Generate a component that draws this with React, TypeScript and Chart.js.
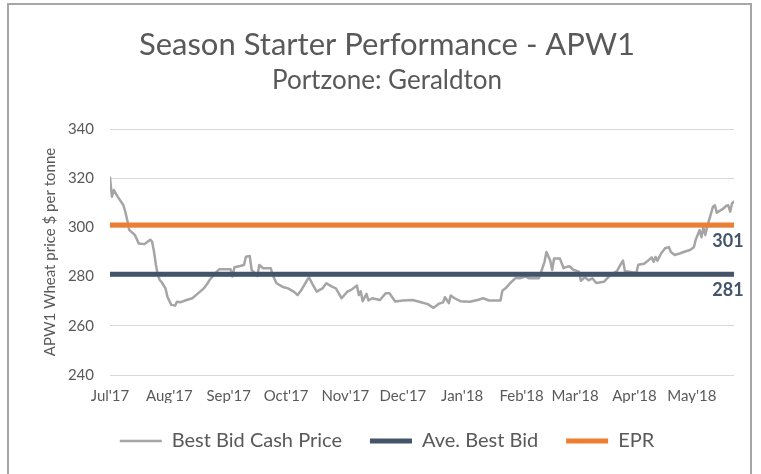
import React, { useEffect, useRef } from "react";
import { Chart, registerables } from "chart.js";

Chart.register(...registerables);

const TITLE = "Season Starter Performance - APW1";
const SUBTITLE = "Portzone: Geraldton";
const Y_TITLE = "APW1 Wheat price $ per tonne";

// x axis: days since 1 Jul 2017
const monthDays = [0, 31, 62, 92, 123, 153, 184, 215, 243, 274, 304];
const monthLabels = ["Jul'17", "Aug'17", "Sep'17", "Oct'17", "Nov'17", "Dec'17", "Jan'18", "Feb'18", "Mar'18", "Apr'18", "May'18"];
const X_MAX = 326;

const yMin = 240;
const yMax = 340;
const yStep = 20;

// Best Bid Cash Price
const priceDays = [
  0, 1, 2, 4, 7, 8, 9, 10, 13, 15, 18, 21, 22, 23, 24, 25, 26, 27, 29, 30,
  32, 34, 35, 37, 40, 43, 46, 49, 51, 52, 55, 57, 63, 64, 65, 68, 70, 71, 73, 74,
  77, 78, 80, 84, 85, 87, 90, 93, 96, 98, 100, 103, 104, 106, 108, 111, 113, 116, 118, 121,
  124, 126, 129, 130, 131, 132, 134, 135, 137, 141, 144, 146, 149, 153, 158, 162, 166, 169, 171, 172,
  174, 175, 177, 178, 180, 183, 188, 192, 195, 198, 204, 205, 207, 209, 212, 214, 217, 219, 224, 225,
  227, 228, 230, 231, 232, 235, 237, 238, 240, 242, 245, 246, 248, 250, 252, 254, 258, 261, 265, 267,
  268, 269, 275, 276, 279, 281, 283, 284, 285, 286, 288, 290, 292, 293, 295, 298, 300, 303, 305, 306,
  308, 309, 310, 311, 312, 314, 315, 316, 317, 320, 322, 323, 324, 325, 326,
];
const priceValues = [
  320.2, 312.5, 315.2, 312.5, 309, 306.4, 303, 299, 296.9, 293.5, 293.2, 295, 294.2, 290.1, 284.7, 280.6, 278.6, 277.7, 275.2, 271.8,
  268.5, 268.2, 269.8, 269.6, 270.5, 271.2, 273.2, 275.2, 277.3, 278.6, 281.3, 283, 283, 280, 283.8, 284.3, 284.7, 288.1, 288.4, 282.7,
  280.2, 284.7, 283.4, 283.4, 280.6, 277.3, 275.9, 275.2, 273.9, 272.5, 274.6, 278.6, 279.7, 276.6, 273.9, 275.2, 277.3, 275.9, 275.2, 271.2,
  273.9, 274.6, 276.4, 272.5, 274, 270, 273, 270.3, 271.2, 270.5, 273.2, 273.2, 269.9, 270.3, 270.5, 269.7, 268.8, 267.3, 268.5, 269,
  269.5, 271.6, 269.2, 272.3, 271.2, 270, 269.8, 270.5, 271.2, 270.3, 270.3, 274.3, 275.5, 277.3, 279.5, 279.3, 280, 279.3, 279.3, 281.3,
  286, 290, 286.5, 282.7, 287.4, 287.4, 283.4, 283.8, 284.2, 282.8, 282, 278.3, 279.8, 278.5, 279.3, 277.4, 277.9, 280.3, 282.4, 285.3,
  286.5, 282.3, 281.5, 284.8, 285.2, 286.4, 287.8, 286, 288, 286.5, 289.5, 291.5, 292, 290, 288.8, 289.5, 290.1, 290.8, 291.9, 295,
  298.9, 296, 300.3, 296.9, 300.3, 305.7, 308.4, 309, 306, 307.4, 308.8, 309, 306.4, 309.8, 310.5,
];

// Ave. Best Bid
const aveDays = [0, 326];
const aveValues = [281, 281];

// EPR
const eprDays = [0, 326];
const eprValues = [301, 301];

const FONT = "Lato, 'Open Sans', sans-serif";
const TEXT = "#595959";

const toPoints = (xs: number[], ys: number[]) => xs.map((x, i) => ({ x, y: ys[i] }));

const endLabelPlugin = {
  id: "endLabels",
  afterDatasetsDraw(chart: any) {
    const ctx = chart.ctx;
    chart.data.datasets.forEach((ds: any, i: number) => {
      if (!ds.endLabel) return;
      const meta = chart.getDatasetMeta(i);
      const el = meta.data[meta.data.length - 1];
      if (!el) return;
      const last = ds.data[ds.data.length - 1];
      ctx.save();
      ctx.font = `bold 18px ${FONT}`;
      ctx.fillStyle = "#44546A";
      ctx.textAlign = "center";
      ctx.textBaseline = "middle";
      ctx.fillText(String(last.y), el.x - 6, el.y + 16);
      ctx.restore();
    });
  },
};

const framePlugin = {
  id: "frame",
  beforeDraw(chart: any) {
    const ctx = chart.ctx;
    ctx.save();
    ctx.fillStyle = "#ffffff";
    ctx.fillRect(0, 0, chart.width, chart.height);
    ctx.strokeStyle = "#A6A6A6";
    ctx.lineWidth = 2;
    ctx.strokeRect(8, 4, 743, 520);
    ctx.restore();
  },
};

export default function App() {
  const canvasRef = useRef<HTMLCanvasElement | null>(null);

  useEffect(() => {
    document.body.style.margin = "0";
    const canvas = canvasRef.current;
    if (!canvas) return;
    const chart = new Chart(canvas, {
      type: "line",
      data: {
        datasets: [
          {
            label: "Best Bid Cash Price",
            data: toPoints(priceDays, priceValues),
            borderColor: "#A5A5A5",
            backgroundColor: "#A5A5A5",
            borderWidth: 2.5,
            pointRadius: 0,
            tension: 0,
            borderCapStyle: "round",
            borderJoinStyle: "round",
            order: 3,
          },
          {
            label: "Ave. Best Bid",
            data: toPoints(aveDays, aveValues),
            borderColor: "#44546A",
            backgroundColor: "#44546A",
            borderWidth: 5,
            pointRadius: 0,
            borderCapStyle: "round",
            order: 2,
            endLabel: true,
          } as any,
          {
            label: "EPR",
            data: toPoints(eprDays, eprValues),
            borderColor: "#ED7D31",
            backgroundColor: "#ED7D31",
            borderWidth: 5,
            pointRadius: 0,
            borderCapStyle: "round",
            order: 1,
            endLabel: true,
          } as any,
        ],
      },
      options: {
        animation: false,
        responsive: false,
        maintainAspectRatio: false,
        layout: { padding: { top: 0, left: 40, right: 27, bottom: 13 } },
        scales: {
          x: {
            type: "linear",
            min: 0,
            max: X_MAX,
            grid: { display: false, drawTicks: false },
            border: { display: false },
            afterBuildTicks: (scale: any) => {
              scale.ticks = monthDays.map((v) => ({ value: v }));
            },
            afterFit: (scale: any) => {
              scale.height = 28;
            },
            ticks: {
              autoSkip: false,
              maxRotation: 0,
              minRotation: 0,
              padding: 12,
              color: TEXT,
              font: { family: FONT, size: 15 },
              callback: (value: any) => {
                const idx = monthDays.indexOf(Number(value));
                return idx >= 0 ? monthLabels[idx] : "";
              },
            },
          },
          y: {
            type: "linear",
            min: yMin,
            max: yMax,
            grid: { color: "#D9D9D9", lineWidth: 1, drawTicks: false },
            border: { display: false },
            afterFit: (scale: any) => {
              scale.width = 70;
            },
            ticks: {
              stepSize: yStep,
              padding: 16,
              color: TEXT,
              font: { family: FONT, size: 15 },
            },
            title: {
              display: true,
              text: Y_TITLE,
              color: TEXT,
              font: { family: FONT, size: 15 },
              padding: { top: 1, bottom: 0 },
            },
          },
        },
        plugins: {
          title: {
            display: true,
            text: TITLE,
            color: TEXT,
            font: { family: FONT, size: 31, weight: "normal" },
            padding: { top: 26, bottom: 0 },
          },
          subtitle: {
            display: true,
            text: SUBTITLE,
            color: TEXT,
            font: { family: FONT, size: 26, weight: "normal" },
            padding: { top: 2.2, bottom: 32.4 },
          },
          legend: {
            display: true,
            position: "bottom",
            labels: {
              usePointStyle: true,
              pointStyle: "line",
              pointStyleWidth: 42,
              padding: 28,
              color: TEXT,
              font: { family: FONT, size: 20 },
              sort: (a: any, b: any) => a.datasetIndex - b.datasetIndex,
            },
          },
          tooltip: { enabled: false },
        },
      },
      plugins: [framePlugin, endLabelPlugin],
    } as any);
    return () => chart.destroy();
  }, []);

  return (
    <div style={{ position: "fixed", left: 0, top: 0, width: 761, height: 474, background: "#fff" }}>
      <canvas ref={canvasRef} width={761} height={474} style={{ display: "block", width: 761, height: 474 }} />
    </div>
  );
}
